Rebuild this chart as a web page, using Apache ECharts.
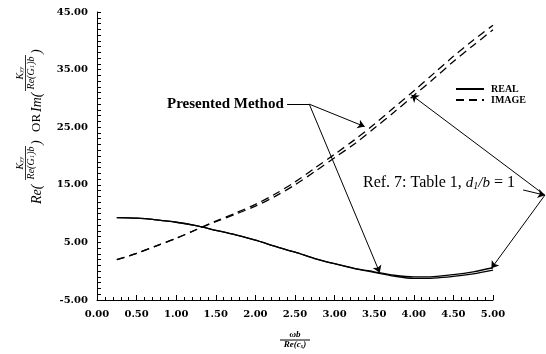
<!DOCTYPE html>
<html><head><meta charset="utf-8">
<script src="https://cdn.jsdelivr.net/npm/echarts@6/dist/echarts.min.js"></script>
<style>html,body{margin:0;padding:0;background:#fff}#c{width:546px;height:354px}</style>
</head><body><div id="c"></div>
<script>
// ---- data ----
const xValues        = [0.25,0.5,0.75,1.0,1.25,1.5,1.75,2.0,2.25,2.5,2.75,3.0,3.25,3.5,3.75,4.0,4.25,4.5,4.75,5.0];
const realPresented  = [9.3,9.2,8.9,8.5,7.9,7.1,6.3,5.4,4.3,3.3,2.2,1.3,0.5,-0.1,-0.7,-1.0,-0.95,-0.6,-0.1,0.6];
const realRef7       = [9.3,9.2,8.9,8.5,7.9,7.1,6.3,5.4,4.3,3.3,2.2,1.3,0.45,-0.2,-0.85,-1.25,-1.2,-0.9,-0.45,0.2];
const imagePresented = [2.0,3.1,4.4,5.7,7.2,8.7,10.1,11.6,13.4,15.5,17.9,20.3,22.8,25.5,28.4,31.3,34.3,37.3,40.1,42.7];
const imageRef7      = [2.0,3.1,4.4,5.7,7.2,8.6,9.9,11.3,13.0,15.0,17.3,19.7,22.1,24.8,27.6,30.5,33.4,36.4,39.2,41.9];
const xTickLabels    = ['0.00','0.50','1.00','1.50','2.00','2.50','3.00','3.50','4.00','4.50','5.00'];
const yTickLabels    = ['-5.00','5.00','15.00','25.00','35.00','45.00'];
// annotation arrows (data coordinates)
const presentedLeader = [[[2.40,29.0],[2.68,29.0]]];
const presentedArrows = [[[2.68,29.0],[3.38,25.1]], [[2.68,29.0],[3.57,-0.26]]];
const refArrows       = [[[5.38,14.1],[5.655,13.2]], [[5.655,13.2],[3.97,30.6]], [[5.655,13.2],[4.98,0.5]]];

const pts = ys => xValues.map((x,i)=>[x, ys[i]]);
const serif = '"Liberation Serif", "DejaVu Serif", serif';
const tickFont = {fontFamily:'"DejaVu Serif", serif', fontWeight:'bold', fontSize:10, color:'#000'};
const subRich = {s:{fontFamily:serif, fontStyle:'italic', fontSize:7, verticalAlign:'bottom', fill:'#000'}};

const chart = echarts.init(document.getElementById('c'), null, {renderer:'canvas'});
const lineBase = {type:'line', symbol:'none', smooth:0.3, silent:true, z:3, color:'#000'};
chart.setOption({
  animation:false,
  backgroundColor:'#fff',
  grid:{left:97, right:53, top:12, bottom:54, containLabel:false},
  xAxis:{type:'value', min:0, max:5, interval:0.5,
    axisLine:{onZero:false, lineStyle:{color:'#000', width:1}},
    axisTick:{inside:true, length:5, lineStyle:{color:'#000'}},
    minorTick:{show:true, splitNumber:5, length:3, lineStyle:{color:'#000'}},
    splitLine:{show:false},
    axisLabel:Object.assign({margin:9, formatter:v=>{const s=v.toFixed(2);return xTickLabels.includes(s)?s:'';}}, tickFont)
  },
  yAxis:{type:'value', min:-5, max:45, interval:5,
    axisLine:{show:true, onZero:false, lineStyle:{color:'#000', width:1}},
    axisTick:{inside:true, length:4, lineStyle:{color:'#000'}},
    minorTick:{show:true, splitNumber:5, length:4, lineStyle:{color:'#000'}},
    splitLine:{show:false},
    axisLabel:Object.assign({margin:9, formatter:v=>{const s=v.toFixed(2);return yTickLabels.includes(s)?s:'';}}, tickFont)
  },
  legend:{data:['REAL','IMAGE'], orient:'vertical', left:455, top:84, itemWidth:28, itemHeight:10, itemGap:1, padding:0,
    selectedMode:false, itemStyle:{opacity:0, borderWidth:0},
    textStyle:{fontFamily:serif, fontWeight:'bold', fontSize:10, color:'#000', padding:[0,0,0,2]}},
  series:[
    Object.assign({name:'REAL', data:pts(realPresented), lineStyle:{color:'#000', width:1.3}}, lineBase),
    Object.assign({name:'REAL', data:pts(realRef7), lineStyle:{color:'#000', width:1.3}}, lineBase),
    Object.assign({name:'IMAGE', data:pts(imagePresented), lineStyle:{color:'#000', width:1.3, type:[8,5]}}, lineBase),
    Object.assign({name:'IMAGE', data:pts(imageRef7), lineStyle:{color:'#000', width:1.3, type:[8,5]}}, lineBase),
    {type:'lines', name:'leader', coordinateSystem:'cartesian2d', clip:false, silent:true, z:4,
      symbol:['none','none'], lineStyle:{color:'#000', width:1, opacity:1, curveness:0},
      data:presentedLeader.map(c=>({coords:c}))},
    {type:'lines', name:'arrows', coordinateSystem:'cartesian2d', clip:false, silent:true, z:4,
      symbol:['none','arrow'], symbolSize:[0,7], lineStyle:{color:'#000', width:1, opacity:1, curveness:0},
      data:presentedArrows.concat(refArrows).map(c=>({coords:c}))}
  ],
  graphic:[
    {type:'text', x:167, y:104, silent:true, style:{text:'Presented Method', font:'bold 15px '+serif, fill:'#000', align:'left', verticalAlign:'middle'}},
    {type:'text', x:363, y:183, silent:true, style:{
      text:'Ref. 7: Table 1, {it|d}{sub|1}{it|/b} = 1', font:'16px '+serif, fill:'#000', align:'left', verticalAlign:'middle',
      rich:{it:{fontFamily:serif, fontStyle:'italic', fontSize:15, fill:'#000'}, sub:{fontFamily:serif, fontStyle:'italic', fontSize:10, verticalAlign:'bottom', fill:'#000'}}}},
    // x-axis title: fraction  ωb / Re(c_s)
    {type:'text', x:295, y:335, silent:true, style:{text:'ωb', font:'bold italic 9px '+serif, fill:'#000', align:'center', verticalAlign:'middle'}},
    {type:'line', silent:true, shape:{x1:280, y1:340, x2:310, y2:340}, style:{stroke:'#000', lineWidth:1}},
    {type:'text', x:295, y:345, silent:true, style:{text:'Re(c{s|s})', font:'bold italic 9px '+serif, fill:'#000', align:'center', verticalAlign:'middle',
      rich:{s:{fontFamily:serif, fontStyle:'italic', fontWeight:'bold', fontSize:6, verticalAlign:'bottom', fill:'#000'}}}},
    // y-axis title, rotated
    {type:'group', x:30, y:123, rotation:Math.PI/2, silent:true, children:[
      {type:'text', x:-81, y:7, style:{text:'Re(', font:'italic 14px '+serif, fill:'#000', align:'left', verticalAlign:'middle'}},
      {type:'text', x:-40, y:-10, style:{text:'K{s|yy}', font:'italic 10px '+serif, fill:'#000', align:'center', verticalAlign:'middle', rich:subRich}},
      {type:'line', shape:{x1:-57, y1:-4.5, x2:-23, y2:-4.5}, style:{stroke:'#000', lineWidth:0.8}},
      {type:'text', x:-40, y:1, style:{text:'Re(G{s|1})b', font:'italic 10px '+serif, fill:'#000', align:'center', verticalAlign:'middle', rich:subRich}},
      {type:'text', x:-22, y:7, style:{text:')', font:'italic 14px '+serif, fill:'#000', align:'left', verticalAlign:'middle'}},
      {type:'text', x:-9, y:7, style:{text:'OR', font:'13px '+serif, fill:'#000', align:'left', verticalAlign:'middle'}},
      {type:'text', x:11, y:7, style:{text:'Im(', font:'italic 14px '+serif, fill:'#000', align:'left', verticalAlign:'middle'}},
      {type:'text', x:50, y:-10, style:{text:'K{s|yy}', font:'italic 10px '+serif, fill:'#000', align:'center', verticalAlign:'middle', rich:subRich}},
      {type:'line', shape:{x1:32, y1:-4.5, x2:68, y2:-4.5}, style:{stroke:'#000', lineWidth:0.8}},
      {type:'text', x:50, y:1, style:{text:'Re(G{s|1})b', font:'italic 10px '+serif, fill:'#000', align:'center', verticalAlign:'middle', rich:subRich}},
      {type:'text', x:69, y:7, style:{text:')', font:'italic 14px '+serif, fill:'#000', align:'left', verticalAlign:'middle'}}
    ]}
  ]
});
</script></body></html>
